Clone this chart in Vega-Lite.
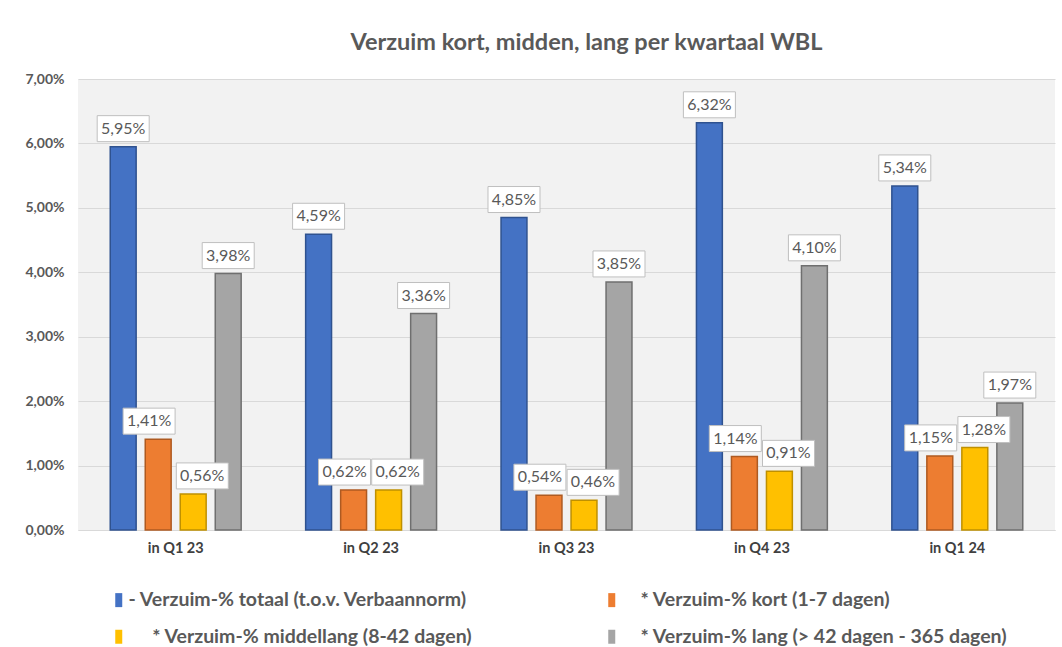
{
  "$schema": "https://vega.github.io/schema/vega-lite/v6.json",
  "usermeta": {"embedOptions": {"actions": false}},
  "autosize": {"type": "none"},
  "width": 977,
  "height": 451,
  "padding": {"left": 78, "top": 79, "right": 7, "bottom": 117},
  "background": "white",
  "config": {
    "locale": {"number": {"decimal": ",", "thousands": ".", "grouping": [3], "currency": ["€", ""]}},
    "view": {"fill": "#f2f2f2", "stroke": null},
    "font": "Lato"
  },
  "title": {
    "text": "Verzuim kort, midden, lang per kwartaal WBL",
    "fontSize": 23.5,
    "fontWeight": "bold",
    "color": "#595959",
    "anchor": "middle",
    "dx": 20,
    "offset": 18,
    "font": "Lato"
  },
  "data": {
    "values": [
      {"kwartaal": "in Q1 23", "serie": "- Verzuim-% totaal (t.o.v. Verbaannorm)", "waarde": 0.0595},
      {"kwartaal": "in Q1 23", "serie": "\u200b\u00a0\u00a0\u00a0\u00a0* Verzuim-% kort (1-7 dagen)", "waarde": 0.0141},
      {"kwartaal": "in Q1 23", "serie": "\u200b\u00a0\u00a0\u00a0\u00a0\u00a0* Verzuim-% middellang (8-42 dagen)", "waarde": 0.0056},
      {"kwartaal": "in Q1 23", "serie": "\u200b\u00a0\u00a0\u00a0\u00a0* Verzuim-% lang (> 42 dagen - 365 dagen)", "waarde": 0.0398},
      {"kwartaal": "in Q2 23", "serie": "- Verzuim-% totaal (t.o.v. Verbaannorm)", "waarde": 0.0459},
      {"kwartaal": "in Q2 23", "serie": "\u200b\u00a0\u00a0\u00a0\u00a0* Verzuim-% kort (1-7 dagen)", "waarde": 0.0062},
      {"kwartaal": "in Q2 23", "serie": "\u200b\u00a0\u00a0\u00a0\u00a0\u00a0* Verzuim-% middellang (8-42 dagen)", "waarde": 0.0062},
      {"kwartaal": "in Q2 23", "serie": "\u200b\u00a0\u00a0\u00a0\u00a0* Verzuim-% lang (> 42 dagen - 365 dagen)", "waarde": 0.0336},
      {"kwartaal": "in Q3 23", "serie": "- Verzuim-% totaal (t.o.v. Verbaannorm)", "waarde": 0.0485},
      {"kwartaal": "in Q3 23", "serie": "\u200b\u00a0\u00a0\u00a0\u00a0* Verzuim-% kort (1-7 dagen)", "waarde": 0.0054},
      {"kwartaal": "in Q3 23", "serie": "\u200b\u00a0\u00a0\u00a0\u00a0\u00a0* Verzuim-% middellang (8-42 dagen)", "waarde": 0.0046},
      {"kwartaal": "in Q3 23", "serie": "\u200b\u00a0\u00a0\u00a0\u00a0* Verzuim-% lang (> 42 dagen - 365 dagen)", "waarde": 0.0385},
      {"kwartaal": "in Q4 23", "serie": "- Verzuim-% totaal (t.o.v. Verbaannorm)", "waarde": 0.0632},
      {"kwartaal": "in Q4 23", "serie": "\u200b\u00a0\u00a0\u00a0\u00a0* Verzuim-% kort (1-7 dagen)", "waarde": 0.0114},
      {"kwartaal": "in Q4 23", "serie": "\u200b\u00a0\u00a0\u00a0\u00a0\u00a0* Verzuim-% middellang (8-42 dagen)", "waarde": 0.0091},
      {"kwartaal": "in Q4 23", "serie": "\u200b\u00a0\u00a0\u00a0\u00a0* Verzuim-% lang (> 42 dagen - 365 dagen)", "waarde": 0.041},
      {"kwartaal": "in Q1 24", "serie": "- Verzuim-% totaal (t.o.v. Verbaannorm)", "waarde": 0.0534},
      {"kwartaal": "in Q1 24", "serie": "\u200b\u00a0\u00a0\u00a0\u00a0* Verzuim-% kort (1-7 dagen)", "waarde": 0.0115},
      {"kwartaal": "in Q1 24", "serie": "\u200b\u00a0\u00a0\u00a0\u00a0\u00a0* Verzuim-% middellang (8-42 dagen)", "waarde": 0.0128},
      {"kwartaal": "in Q1 24", "serie": "\u200b\u00a0\u00a0\u00a0\u00a0* Verzuim-% lang (> 42 dagen - 365 dagen)", "waarde": 0.0197}
    ]
  },
  "encoding": {
    "x": {
      "field": "kwartaal",
      "type": "nominal",
      "sort": ["in Q1 23", "in Q2 23", "in Q3 23", "in Q4 23", "in Q1 24"],
      "scale": {"paddingInner": 0.33, "paddingOuter": 0.165},
      "axis": {
        "title": null,
        "labelAngle": 0,
        "labelFontWeight": "bold",
        "labelFontSize": 14.5,
        "labelColor": "#404040",
        "ticks": false,
        "domainColor": "#d9d9d9",
        "labelPadding": 11
      }
    },
    "xOffset": {
      "field": "serie",
      "type": "nominal",
      "sort": [
        "- Verzuim-% totaal (t.o.v. Verbaannorm)",
        "\u200b\u00a0\u00a0\u00a0\u00a0* Verzuim-% kort (1-7 dagen)",
        "\u200b\u00a0\u00a0\u00a0\u00a0\u00a0* Verzuim-% middellang (8-42 dagen)",
        "\u200b\u00a0\u00a0\u00a0\u00a0* Verzuim-% lang (> 42 dagen - 365 dagen)"
      ],
      "scale": {"paddingInner": 0.26, "paddingOuter": 0}
    },
    "y": {
      "field": "waarde",
      "type": "quantitative",
      "scale": {"domain": [0, 0.07]},
      "axis": {
        "title": null,
        "format": ".2%",
        "values": [0, 0.01, 0.02, 0.03, 0.04, 0.05, 0.06, 0.07],
        "grid": true,
        "gridColor": "#d9d9d9",
        "domain": false,
        "ticks": false,
        "labelFontWeight": "bold",
        "labelFontSize": 14,
        "labelColor": "#595959",
        "labelPadding": 14
      }
    }
  },
  "layer": [
    {
      "mark": {"type": "bar", "strokeWidth": 1.5},
      "encoding": {
        "color": {
          "field": "serie",
          "type": "nominal",
          "sort": [
            "- Verzuim-% totaal (t.o.v. Verbaannorm)",
            "\u200b\u00a0\u00a0\u00a0\u00a0* Verzuim-% kort (1-7 dagen)",
            "\u200b\u00a0\u00a0\u00a0\u00a0\u00a0* Verzuim-% middellang (8-42 dagen)",
            "\u200b\u00a0\u00a0\u00a0\u00a0* Verzuim-% lang (> 42 dagen - 365 dagen)"
          ],
          "scale": {"range": ["#4472C4", "#ED7D31", "#FFC000", "#A5A5A5"]},
          "legend": {
            "title": null,
            "orient": "none",
            "direction": "horizontal",
            "legendX": 31,
            "legendY": 511,
            "columns": 2,
            "columnPadding": 129,
            "rowPadding": 16,
            "labelFontSize": 19.5,
            "labelFontWeight": "bold",
            "labelColor": "#595959",
            "labelFont": "Lato",
            "symbolType": "M-0.5,-1L0.5,-1L0.5,1L-0.5,1Z",
            "symbolSize": 196,
            "symbolStrokeWidth": 1.5,
            "labelLimit": 600,
            "labelOffset": 0
          }
        },
        "stroke": {
          "field": "serie",
          "type": "nominal",
          "sort": [
            "- Verzuim-% totaal (t.o.v. Verbaannorm)",
            "\u200b\u00a0\u00a0\u00a0\u00a0* Verzuim-% kort (1-7 dagen)",
            "\u200b\u00a0\u00a0\u00a0\u00a0\u00a0* Verzuim-% middellang (8-42 dagen)",
            "\u200b\u00a0\u00a0\u00a0\u00a0* Verzuim-% lang (> 42 dagen - 365 dagen)"
          ],
          "scale": {"range": ["#2F528F", "#AE5A21", "#BF9000", "#6f6f6f"]}
        }
      }
    },
    {
      "transform": [{"filter": "indexof(datum.serie, 'totaal') >= 0 || indexof(datum.serie, 'lang (>') >= 0"}],
      "layer": [
        {
          "mark": {"type": "point", "shape": "M-1,-0.5L1,-0.5L1,0.5L-1,0.5Z", "size": 2704, "filled": true, "fill": "white", "stroke": "#bfbfbf", "strokeWidth": 1, "opacity": 1, "yOffset": -18}
        },
        {
          "mark": {"type": "text", "yOffset": -18, "fontSize": 16, "color": "#595959", "font": "Lato"},
          "encoding": {"text": {"field": "waarde", "type": "quantitative", "format": ".2%"}}
        }
      ]
    },
    {
      "transform": [{"filter": "indexof(datum.serie, 'kort') >= 0"}],
      "layer": [
        {
          "mark": {"type": "point", "shape": "M-1.35,-0.5L0.65,-0.5L0.65,0.5L-1.35,0.5Z", "size": 2704, "filled": true, "fill": "white", "stroke": "#bfbfbf", "strokeWidth": 1, "opacity": 1, "yOffset": -18}
        },
        {
          "mark": {"type": "text", "yOffset": -18, "dx": -9, "fontSize": 16, "color": "#595959", "font": "Lato"},
          "encoding": {"text": {"field": "waarde", "type": "quantitative", "format": ".2%"}}
        }
      ]
    },
    {
      "transform": [{"filter": "indexof(datum.serie, 'middellang') >= 0"}],
      "layer": [
        {
          "mark": {"type": "point", "shape": "M-0.65,-0.5L1.35,-0.5L1.35,0.5L-0.65,0.5Z", "size": 2704, "filled": true, "fill": "white", "stroke": "#bfbfbf", "strokeWidth": 1, "opacity": 1, "yOffset": -18}
        },
        {
          "mark": {"type": "text", "yOffset": -18, "dx": 9, "fontSize": 16, "color": "#595959", "font": "Lato"},
          "encoding": {"text": {"field": "waarde", "type": "quantitative", "format": ".2%"}}
        }
      ]
    }
  ]
}
